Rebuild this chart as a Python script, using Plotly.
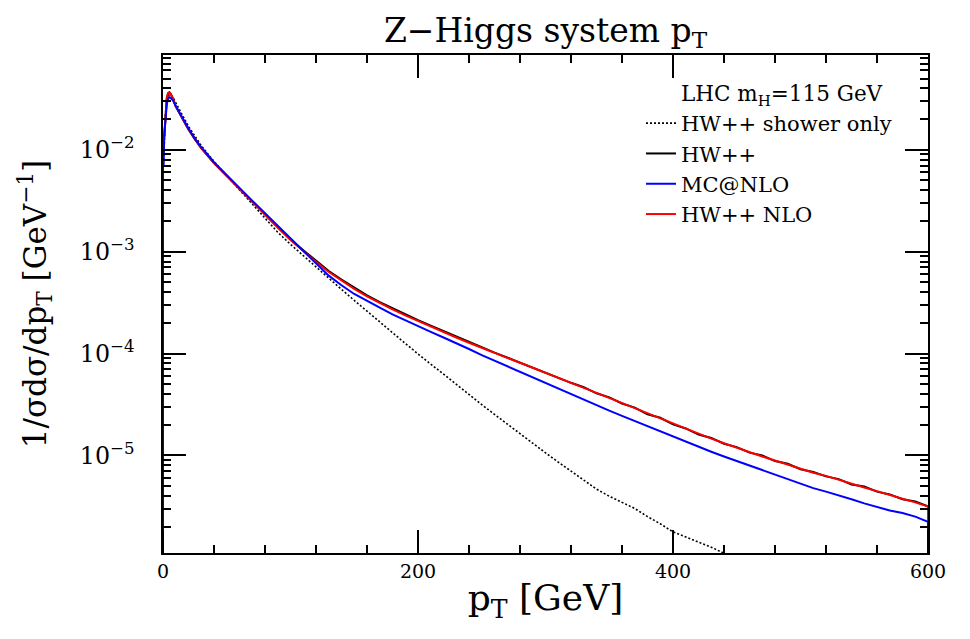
import math
import plotly.graph_objects as go

# transverse momentum grid (GeV)
pt = [0.5, 1, 2, 3, 4, 5, 6, 8, 10, 15, 20, 25, 30,
      40, 50, 60, 70, 80, 90, 100, 110, 120, 130, 140, 150, 160, 170, 180, 190,
      200, 210, 220, 230, 240, 250, 260, 270, 280, 290, 300, 310, 320, 330, 340,
      350, 360, 370, 380, 390, 400, 410, 420, 430, 440, 450, 460, 470, 480, 490,
      500, 510, 520, 530, 540, 550, 560, 570, 580, 590, 600]

# log10 of 1/sigma dsigma/dpT  [GeV^-1]
shower_only_log10 = [-2.10, -1.85, -1.63, -1.52, -1.475, -1.46, -1.465, -1.49, -1.54, -1.655, -1.77, -1.87, -1.96,
                     -2.115, -2.255, -2.39, -2.53, -2.67, -2.81, -2.928, -3.040, -3.151, -3.262, -3.370, -3.478,
                     -3.585, -3.692, -3.797, -3.900, -4.003, -4.104, -4.205, -4.305, -4.404, -4.501, -4.597,
                     -4.693, -4.788, -4.881, -4.974, -5.065, -5.154, -5.244, -5.33, -5.40, -5.46, -5.52, -5.60,
                     -5.67, -5.75, -5.80, -5.85, -5.90, -5.96, -6.02, -6.08, None, None, None,
                     None, None, None, None, None, None, None, None, None, None, None]

hwpp_log10 = [-1.87, -1.87, -1.62, -1.49, -1.445, -1.437, -1.45, -1.50, -1.575, -1.689, -1.80, -1.895, -1.983,
              -2.131, -2.262, -2.383, -2.508, -2.632, -2.760, -2.878, -2.985, -3.090, -3.190, -3.275, -3.355,
              -3.428, -3.495, -3.556, -3.615, -3.671, -3.725, -3.780, -3.833, -3.886, -3.938, -3.990,
              -4.040, -4.088, -4.136, -4.185, -4.232, -4.287, -4.330, -4.390, -4.430, -4.490, -4.530, -4.595,
              -4.630, -4.695, -4.735, -4.795, -4.828, -4.885, -4.918, -4.972, -5.000, -5.055, -5.082,
              -5.135, -5.162, -5.205, -5.232, -5.285, -5.305, -5.355, -5.382, -5.430, -5.452, -5.500]

mcnlo_log10 = [-2.16, -1.85, -1.66, -1.55, -1.50, -1.485, -1.49, -1.52, -1.57, -1.682, -1.792, -1.89, -1.975,
               -2.122, -2.252, -2.374, -2.50, -2.625, -2.745, -2.868, -2.99, -3.115, -3.235, -3.33, -3.415,
               -3.485, -3.548, -3.615, -3.675, -3.733, -3.787, -3.842, -3.897, -3.955, -4.015, -4.07,
               -4.125, -4.18, -4.235, -4.29, -4.345, -4.40, -4.455, -4.508, -4.56, -4.612, -4.663, -4.714,
               -4.764, -4.815, -4.865, -4.915, -4.963, -5.01, -5.055, -5.10, -5.145, -5.19, -5.235,
               -5.28, -5.32, -5.355, -5.39, -5.43, -5.47, -5.505, -5.54, -5.565, -5.60, -5.65]

hwpp_nlo_log10 = [-1.87, -1.87, -1.62, -1.49, -1.445, -1.437, -1.45, -1.50, -1.575, -1.689, -1.80, -1.895, -1.983,
                  -2.131, -2.262, -2.385, -2.51, -2.64, -2.765, -2.885, -2.995, -3.10, -3.200, -3.285, -3.365,
                  -3.438, -3.505, -3.566, -3.625, -3.681, -3.735, -3.789, -3.842, -3.894, -3.945, -3.994,
                  -4.042, -4.090, -4.138, -4.187, -4.236, -4.285, -4.336, -4.386, -4.436, -4.486, -4.537, -4.59,
                  -4.64, -4.69, -4.74, -4.79, -4.835, -4.88, -4.925, -4.965, -5.01, -5.05, -5.09,
                  -5.13, -5.17, -5.20, -5.24, -5.28, -5.315, -5.35, -5.39, -5.425, -5.46, -5.50]

legend_note = "LHC m<sub>H</sub>=115 GeV"
x_range = [0, 600]
y_log_range = [-5.957, -1.07]
x_major_ticks = [0, 200, 400, 600]
x_minor_ticks = [40, 80, 120, 160, 240, 280, 320, 360, 440, 480, 520, 560]
y_decades = [-6, -5, -4, -3, -2]

FLOOR = 1e-9  # below the axis: histogram edges drop to zero


def to_values(logs):
    return [None if v is None else 10 ** v for v in logs]


def with_edges(xs, ys):
    return [xs[0] - 0.5, xs[0] - 0.5] + xs + [xs[-1]], [FLOOR, ys[0]] + ys + [FLOOR]


fig = go.Figure()

fig.add_trace(go.Scatter(
    x=pt, y=to_values(shower_only_log10), mode="lines", name="HW++ shower only",
    line=dict(color="black", width=1.6, dash="2px,2px"), legendrank=1, connectgaps=False))

for name, logs, color, rank in [("HW++", hwpp_log10, "black", 2),
                                ("HW++ NLO", hwpp_nlo_log10, "#ff0000", 4),
                                ("MC@NLO", mcnlo_log10, "#0000ff", 3)]:
    xs, ys = with_edges(pt, to_values(logs))
    fig.add_trace(go.Scatter(x=xs, y=ys, mode="lines", name=name,
                             line=dict(color=color, width=2), legendrank=rank))

tick_style = dict(ticks="inside", ticklen=23, tickwidth=2, tickcolor="black",
                  showline=True, linecolor="black", linewidth=2, mirror="allticks",
                  showgrid=False, zeroline=False, layer="above traces")
x_minor = dict(ticks="inside", ticklen=8, tickwidth=1.5, tick0=0, dtick=40, tickcolor="black", showgrid=False)
y_minor = dict(ticks="inside", ticklen=8, tickwidth=1.5, dtick="D1", tickcolor="black", showgrid=False)

fig.update_layout(
    xaxis=dict(range=x_range, tick0=0, dtick=200, minor=x_minor, **tick_style,
               tickfont=dict(family="DejaVu Serif", size=19, color="black"),
               title=dict(text="p<sub>T</sub> [GeV]",
                          font=dict(family="DejaVu Serif", size=36, color="black"), standoff=4)),
    yaxis=dict(type="log", range=y_log_range, dtick=1, exponentformat="power", minor=y_minor, **tick_style,
               ticksuffix="\u00a0\u00a0\u00a0",
               tickfont=dict(family="DejaVu Serif", size=19, color="black"),
               title=dict(text="1/σdσ/dp<sub>T</sub> [GeV<sup>−1</sup>]",
                          font=dict(family="DejaVu Serif", size=31, color="black"), standoff=24)),
)

# inner tick marks on the bottom and left frame edges, placed through the axes' own scales
for v, L, w in [(t, 23, 2) for t in x_major_ticks] + [(t, 8, 1.5) for t in x_minor_ticks]:
    fig.add_shape(type="line", xref="x", yref="paper", ysizemode="pixel", yanchor=0,
                  x0=v, x1=v, y0=0, y1=L, line=dict(color="black", width=w), layer="above")

y_lo, y_hi = y_log_range
for d in y_decades:
    for k in range(1, 10):
        lv = d + math.log10(k)
        if y_lo < lv < y_hi:
            L, w = (23, 2) if k == 1 else (8, 1.5)
            fig.add_shape(type="line", xref="paper", yref="y", xsizemode="pixel", xanchor=0,
                          x0=0, x1=L, y0=lv, y1=lv, line=dict(color="black", width=w), layer="above")

fig.add_annotation(text=legend_note, xref="paper", yref="paper", x=(679 - 163) / 765, y=(553 - 95) / 498,
                   xanchor="left", yanchor="middle", showarrow=False,
                   font=dict(family="DejaVu Serif", size=21.5, color="black"))

fig.update_layout(
    template="none",
    width=970, height=639,
    margin=dict(l=163, r=42, t=55, b=86),
    paper_bgcolor="white", plot_bgcolor="white",
    title=dict(text="Z−Higgs system p<sub>T</sub>", x=0.5, xref="paper", y=1 - 30 / 639, yref="container",
               xanchor="center", yanchor="middle",
               font=dict(family="DejaVu Serif", size=33, color="black")),
    showlegend=True,
    legend=dict(x=(641 - 163) / 765, y=(553 - 103) / 498, xanchor="left", yanchor="top",
                bgcolor="rgba(0,0,0,0)", borderwidth=0,
                font=dict(family="DejaVu Serif", size=21, color="black"),
                itemwidth=30, tracegroupgap=0),
)

fig.write_html("out.html")
